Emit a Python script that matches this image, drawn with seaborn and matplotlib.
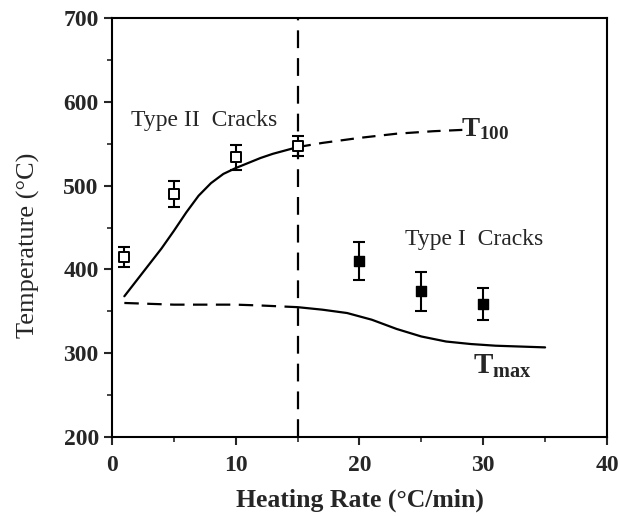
import matplotlib
matplotlib.use("Agg")
import matplotlib.pyplot as plt
import seaborn as sns
import pandas as pd

# Measured crack temperatures with error bars
type2_rate = [1, 5, 10, 15]
type2_temp = [415, 490, 534, 547]
type2_err = [12, 15, 15, 12]

type1_rate = [20, 25, 30]
type1_temp = [410, 374, 359]
type1_err = [23, 23, 19]

# T100 curve: solid (fitted) part and dashed extrapolation
t100_solid_x = [1, 2, 3, 4, 5, 6, 7, 8, 9, 10, 11, 12, 13, 14, 15]
t100_solid_y = [368, 387, 406, 425, 446, 468, 488, 503, 514, 521, 527, 533, 538, 542, 546]
t100_dash_x = [15, 17, 20, 23, 26, 29]
t100_dash_y = [546, 551, 557, 562, 565, 567]

# Tmax curve: dashed part and solid part
tmax_dash_x = [1, 3, 5, 8, 10, 12, 15]
tmax_dash_y = [360, 359, 358, 358, 358, 357, 355]
tmax_solid_x = [15, 17, 19, 21, 23, 25, 27, 29, 31, 33, 35]
tmax_solid_y = [355, 352, 348, 340, 329, 320, 314, 311, 309, 308, 307]

boundary_rate = 15

sns.set_style("ticks")
plt.rcParams["font.family"] = ["Liberation Serif", "DejaVu Serif"]
plt.rcParams["mathtext.fontset"] = "custom"
plt.rcParams["mathtext.rm"] = "Liberation Serif"
plt.rcParams["mathtext.bf"] = "Liberation Serif:bold"
plt.rcParams["mathtext.it"] = "Liberation Serif:italic"

fig = plt.figure(figsize=(6.2, 5.16), dpi=100)
ax = fig.add_axes([0.1806, 0.153, 0.7984, 0.812])

lw = 1.6

sns.lineplot(x=t100_solid_x, y=t100_solid_y, ax=ax, color="black", lw=lw)
sns.lineplot(x=t100_dash_x, y=t100_dash_y, ax=ax, color="black", lw=lw).lines[-1].set_dashes((6, 3.8))
sns.lineplot(x=tmax_dash_x, y=tmax_dash_y, ax=ax, color="black", lw=lw).lines[-1].set_dashes((6.5, 3.8))
sns.lineplot(x=tmax_solid_x, y=tmax_solid_y, ax=ax, color="black", lw=lw)

ax.axvline(boundary_rate, color="black", lw=lw, dashes=(8, 4.5))

# error bars
ax.errorbar(type2_rate, type2_temp, yerr=type2_err, fmt="none", ecolor="black",
            elinewidth=1.5, capsize=4, capthick=1.5, zorder=3)
ax.errorbar(type1_rate, type1_temp, yerr=type1_err, fmt="none", ecolor="black",
            elinewidth=1.5, capsize=4, capthick=1.5, zorder=3)

df2 = pd.DataFrame({"rate": type2_rate, "temp": type2_temp})
df1 = pd.DataFrame({"rate": type1_rate, "temp": type1_temp})
sns.scatterplot(data=df2, x="rate", y="temp", ax=ax, marker="s", s=60,
                facecolor="white", edgecolor="black", linewidth=1.4, zorder=4)
sns.scatterplot(data=df1, x="rate", y="temp", ax=ax, marker="s", s=60,
                color="black", edgecolor="black", linewidth=1.0, zorder=4)

ax.set_xlim(0, 40)
ax.set_ylim(200, 700)
ax.set_xticks([0, 10, 20, 30, 40])
ax.set_yticks([200, 300, 400, 500, 600, 700])
ax.set_xticks([5, 15, 25, 35], minor=True)
ax.set_yticks([250, 350, 450, 550, 650], minor=True)
ax.tick_params(which="major", direction="out", length=6, width=1.5, labelsize=17)
ax.tick_params(axis="x", which="major", pad=7)
ax.tick_params(which="minor", direction="out", length=3.5, width=1.2)
for lab in ax.get_xticklabels() + ax.get_yticklabels():
    lab.set_fontweight("bold")
for sp in ax.spines.values():
    sp.set_linewidth(1.5)
    sp.set_color("black")

ax.set_xlabel("Heating Rate (°C/min)", fontsize=18.5, fontweight="bold")
ax.xaxis.set_label_coords(0.5, -0.122)
ax.set_ylabel("Temperature (°C)", fontsize=19, fontweight="normal")
ax.yaxis.set_label_coords(-0.145, 0.458)

ax.text(1.5, 578, "Type II  Cracks", fontsize=17, va="center", ha="left")
ax.text(23.7, 436, "Type I  Cracks", fontsize=17, va="center", ha="left")
ax.text(28.2, 567, r"$\mathbf{T_{100}}$", fontsize=19.5, va="center", ha="left")
ax.text(29.2, 284, r"$\mathbf{T_{max}}$", fontsize=21, va="center", ha="left")

fig.savefig("out.png", dpi=100)
